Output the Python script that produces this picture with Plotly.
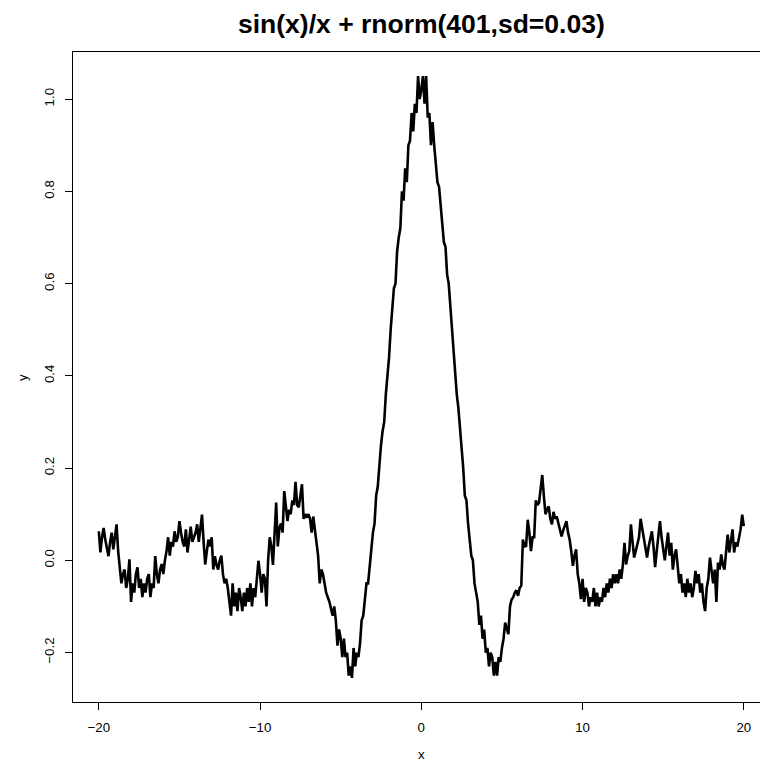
import plotly.graph_objects as go

# ---- data (x = -20 .. 20 by 0.1) ----
x_start = -20.0
x_step = 0.1

y_values = [
    # -20.0 .. -19.1
    0.063, 0.017, 0.05, 0.07, 0.045, 0.03, 0.009, 0.04, 0.06, 0.024,
    # -19.0 .. -18.1
    0.05, 0.078, 0.02, -0.012, -0.05, -0.03, -0.02, -0.06, -0.04, 0.002,
    # -18.0 .. -17.1
    -0.09, -0.05, -0.07, -0.03, -0.015, -0.06, -0.04, -0.08, -0.05, -0.07,
    # -17.0 .. -16.1
    -0.04, -0.03, -0.08, -0.05, -0.06, 0.009, -0.03, -0.05, -0.02, -0.008,
    # -16.0 .. -15.1
    -0.03, 0.0, 0.02, 0.05, 0.01, 0.04, 0.03, 0.063, 0.04, 0.05,
    # -15.0 .. -14.1
    0.085, 0.06, 0.04, 0.03, 0.067, 0.017, 0.05, 0.073, 0.04, 0.05,
    # -14.0 .. -13.1
    0.06, 0.078, 0.04, 0.07, 0.099, 0.04, -0.009, 0.02, 0.045, 0.03,
    # -13.0 .. -12.1
    0.05, -0.02, 0.009, -0.01, -0.02, 0.0, 0.01, -0.03, -0.05, -0.04,
    # -12.0 .. -11.1
    -0.06, -0.09, -0.12, -0.05, -0.10, -0.07, -0.11, -0.06, -0.08, -0.11,
    # -11.0 .. -10.1
    -0.07, -0.10, -0.06, -0.09, -0.05, -0.10, -0.06, -0.08, -0.04, -0.001,
    # -10.0 .. -9.1
    -0.03, -0.07, -0.03, -0.04, -0.10, 0.0, 0.05, 0.03, -0.01, 0.06,
    # -9.0 .. -8.1
    0.125, 0.03, 0.07, 0.08, 0.06, 0.15, 0.12, 0.085, 0.11, 0.10,
    # -8.0 .. -7.1
    0.13, 0.12, 0.17, 0.12, 0.115, 0.14, 0.165, 0.09, 0.10, 0.095,
    # -7.0 .. -6.1
    0.10, 0.09, 0.06, 0.095, 0.07, 0.04, 0.01, -0.05, -0.02, -0.03,
    # -6.0 .. -5.1
    -0.05, -0.07, -0.08, -0.09, -0.105, -0.12, -0.10, -0.13, -0.185, -0.15,
    # -5.0 .. -4.1
    -0.17, -0.21, -0.17, -0.21, -0.20, -0.25, -0.23, -0.255, -0.19, -0.23,
    # -4.0 .. -3.1
    -0.20, -0.21, -0.18, -0.13, -0.12, -0.09, -0.05, -0.05, -0.01, 0.02,
    # -3.0 .. -2.1
    0.06, 0.08, 0.14, 0.16, 0.21, 0.25, 0.28, 0.30, 0.36, 0.40,
    # -2.0 .. -1.1
    0.44, 0.50, 0.55, 0.59, 0.60, 0.67, 0.70, 0.72, 0.80, 0.78,
    # -1.0 .. -0.1
    0.85, 0.82, 0.90, 0.91, 0.97, 0.93, 0.99, 0.97, 1.05, 1.00,
    # 0.0 .. 0.9
    1.02, 1.05, 0.99, 1.05, 0.96, 0.97, 0.90, 0.95, 0.90, 0.86,
    # 1.0 .. 1.9
    0.82, 0.81, 0.77, 0.74, 0.69, 0.68, 0.62, 0.60, 0.55, 0.50,
    # 2.0 .. 2.9
    0.46, 0.42, 0.36, 0.33, 0.29, 0.25, 0.20, 0.14, 0.13, 0.08,
    # 3.0 .. 3.9
    0.05, 0.01, 0.00, -0.05, -0.07, -0.09, -0.14, -0.12, -0.17, -0.15,
    # 4.0 .. 4.9
    -0.20, -0.19, -0.23, -0.20, -0.21, -0.25, -0.22, -0.25, -0.21, -0.22,
    # 5.0 .. 5.9
    -0.19, -0.17, -0.135, -0.15, -0.16, -0.10, -0.085, -0.08, -0.07, -0.065,
    # 6.0 .. 6.9
    -0.077, -0.06, -0.055, 0.045, 0.03, 0.031, 0.088, 0.06, 0.02, 0.05,
    # 7.0 .. 7.9
    0.05, 0.13, 0.12, 0.125, 0.15, 0.185, 0.14, 0.10, 0.11, 0.117,
    # 8.0 .. 8.9
    0.09, 0.078, 0.105, 0.09, 0.095, 0.082, 0.07, 0.052, 0.065, 0.075,
    # 9.0 .. 9.9
    0.085, 0.06, 0.045, 0.02, -0.012, 0.01, 0.024, -0.03, -0.05, -0.084,
    # 10.0 .. 10.9
    -0.04, -0.09, -0.06, -0.07, -0.10, -0.08, -0.09, -0.06, -0.10, -0.07,
    # 11.0 .. 11.9
    -0.10, -0.08, -0.09, -0.06, -0.08, -0.05, -0.07, -0.04, -0.06, -0.03,
    # 12.0 .. 12.9
    -0.05, -0.03, -0.05, -0.02, -0.04, -0.01, 0.038, -0.009, 0.01, 0.02,
    # 13.0 .. 13.9
    0.078, 0.04, 0.006, 0.02, 0.034, 0.05, 0.09, 0.07, 0.049, 0.03,
    # 14.0 .. 14.9
    0.006, 0.03, 0.05, 0.063, 0.03, -0.015, 0.02, 0.05, 0.085, 0.05,
    # 15.0 .. 15.9
    0.02, 0.0, 0.03, 0.06, 0.01, 0.038, -0.02, 0.01, 0.024, -0.02,
    # 16.0 .. 16.9
    -0.05, -0.03, -0.07, -0.05, -0.08, -0.04, -0.07, -0.05, -0.08, -0.06,
    # 17.0 .. 17.9
    -0.023, -0.05, -0.03, -0.07, -0.05, -0.09, -0.11, -0.06, -0.04, 0.006,
    # 18.0 .. 18.9
    -0.03, -0.05, -0.02, -0.09, -0.005, -0.02, 0.013, -0.01, -0.02, 0.02,
    # 19.0 .. 19.9
    0.056, 0.017, 0.04, 0.067, 0.017, 0.039, 0.03, 0.05, 0.067, 0.099,
    # 20.0
    0.074,
]

x_values = [round(x_start + x_step * i, 1) for i in range(len(y_values))]

x_tick_values = [-20, -10, 0, 10, 20]
x_tick_labels = ["\u221220", "\u221210", "0", "10", "20"]
y_tick_values = [-0.2, 0.0, 0.2, 0.4, 0.6, 0.8, 1.0]
y_tick_labels = ["\u22120.2", "0.0", "0.2", "0.4", "0.6", "0.8", "1.0"]

title_text = "sin(x)/x + rnorm(401,sd=0.03)"
x_title = "x"
y_title = "y"

# ---- figure ----
FONT = "Liberation Sans, Arial, Helvetica, sans-serif"
W, H = 760, 764
L, R, T, B = 73, 0, 52, 62
plot_w = W - L - R
plot_h = H - T - B

# R-style 4% axis extension
ymin, ymax = min(y_values), max(y_values)
yr = ymax - ymin
y_range = [ymin - 0.04 * yr, ymax + 0.04 * yr]
x_lo = -20 - 0.04 * 40
px_per_unit = (744 - 99) / 40.0
x_hi = x_lo + plot_w / px_per_unit

fig = go.Figure()
fig.add_trace(go.Scatter(
    x=x_values, y=y_values, mode="lines",
    line=dict(color="black", width=2.6),
    hoverinfo="skip", showlegend=False,
))

axis_common = dict(
    showgrid=False, zeroline=False, showline=True, linecolor="black",
    linewidth=1, ticks="outside", ticklen=7, tickwidth=1, tickcolor="black",
    tickfont=dict(family=FONT, size=13.3, color="black"),
)

fig.update_xaxes(range=[x_lo, x_hi], tickvals=x_tick_values, ticktext=x_tick_labels,
                 mirror=True, ticklabelstandoff=6, **axis_common)
fig.update_yaxes(range=y_range, tickvals=y_tick_values, ticktext=y_tick_labels,
                 tickangle=-90, ticklabelstandoff=6, **axis_common)

def px_to_paper_x(px):
    return (px - L) / plot_w

def px_to_paper_y(py):
    return (H - B - py) / plot_h

center_px = L + (0 - x_lo) * px_per_unit

fig.add_annotation(text="<b>" + title_text + "</b>", xref="paper", yref="paper",
                   x=px_to_paper_x(center_px), y=px_to_paper_y(24),
                   xanchor="center", yanchor="middle", showarrow=False,
                   font=dict(family=FONT, size=26.5, color="black"))
fig.add_annotation(text=x_title, xref="paper", yref="paper",
                   x=px_to_paper_x(center_px), y=px_to_paper_y(754),
                   xanchor="center", yanchor="middle", showarrow=False,
                   font=dict(family=FONT, size=13.3, color="black"))
fig.add_annotation(text=y_title, xref="paper", yref="paper",
                   x=px_to_paper_x(22), y=0.5, textangle=-90,
                   xanchor="center", yanchor="middle", showarrow=False,
                   font=dict(family=FONT, size=13.3, color="black"))

fig.update_layout(
    width=W, height=H, margin=dict(l=L, r=R, t=T, b=B, pad=0),
    plot_bgcolor="white", paper_bgcolor="white",
    showlegend=False,
)

fig.write_html("out.html",
               config={"displayModeBar": False, "staticPlot": True},
               post_script="document.body.style.margin='0px';document.body.style.padding='0px';")
